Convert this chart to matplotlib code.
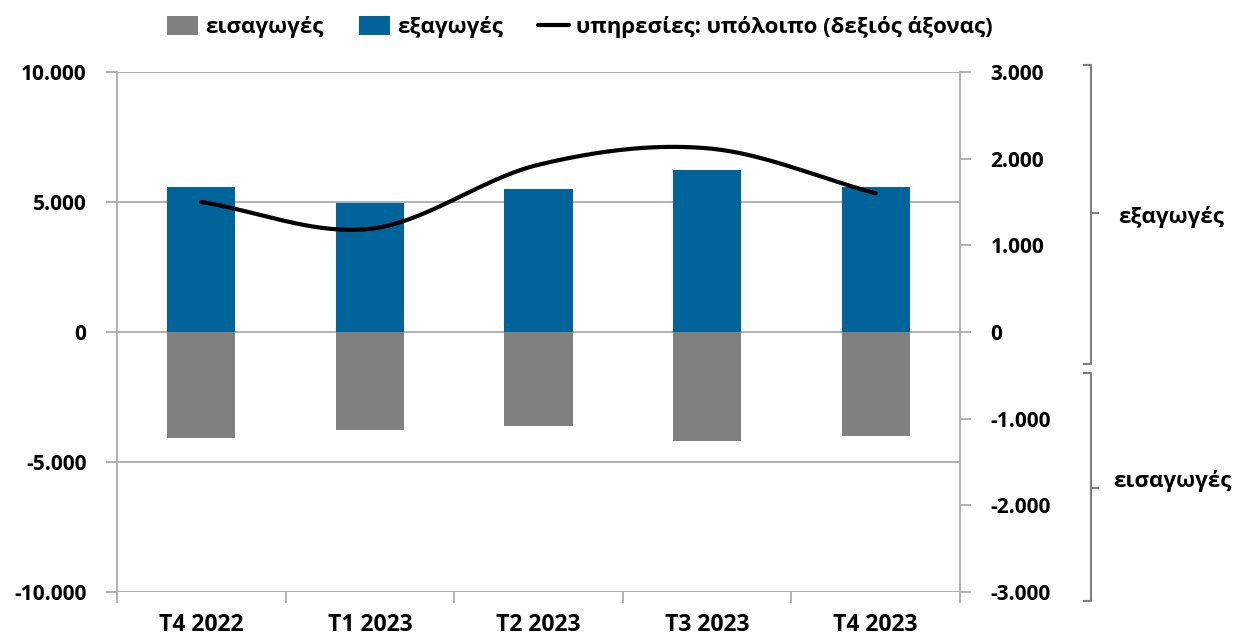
import matplotlib
matplotlib.use('Agg')
import matplotlib.pyplot as plt
import numpy as np
from matplotlib.ticker import FuncFormatter, FixedLocator

plt.rcParams['font.family'] = ['Open Sans', 'DejaVu Sans']
plt.rcParams['font.weight'] = 'bold'

quarters = ['T4 2022', 'T1 2023', 'T2 2023', 'T3 2023', 'T4 2023']
exports = [5580, 4960, 5500, 6230, 5580]          # εξαγωγές
imports = [-4080, -3770, -3620, -4190, -4000]     # εισαγωγές
balance = [1500, 1190, 1930, 2120, 1600]          # υπόλοιπο, δεξιός άξονας

c_exp = '#00639A'
c_imp = '#808080'
c_grid = '#A6A6A6'
fs_y = 15
fs_x = 16.5
fs_leg = 16


def dotted(v, pos=None):
    return f'{int(v):,}'.replace(',', '.')


def smooth(x, y, n=40):
    # Catmull-Rom καμπύλη, όπως η "εξομαλυσμένη γραμμή" του Excel
    x = np.asarray(x, float)
    y = np.asarray(y, float)
    px = np.concatenate([[2 * x[0] - x[1]], x, [2 * x[-1] - x[-2]]])
    py = np.concatenate([[2 * y[0] - y[1]], y, [2 * y[-1] - y[-2]]])
    xs, ys = [], []
    t = np.linspace(0, 1, n)
    for i in range(1, len(px) - 2):
        for p, out in ((px, xs), (py, ys)):
            p0, p1, p2, p3 = p[i - 1], p[i], p[i + 1], p[i + 2]
            out.append(0.5 * (2 * p1 + (-p0 + p2) * t
                              + (2 * p0 - 5 * p1 + 4 * p2 - p3) * t ** 2
                              + (-p0 + 3 * p1 - 3 * p2 + p3) * t ** 3))
    return np.concatenate(xs), np.concatenate(ys)


fig = plt.figure(figsize=(12.41, 6.39), dpi=100)
ax = fig.add_axes([117 / 1241, 1 - 592 / 639, (960 - 117) / 1241, (592 - 72) / 639])
ax2 = ax.twinx()

x = np.arange(len(quarters))
w = 0.405
ax.bar(x, imports, w, color=c_imp, label='εισαγωγές', zorder=3)
ax.bar(x, exports, w, color=c_exp, label='εξαγωγές', zorder=3)

sx, sy = smooth(x, balance)
ln, = ax2.plot(sx, sy, color='black', lw=3, solid_capstyle='round',
               label='υπηρεσίες: υπόλοιπο (δεξιός άξονας)')

ax.set_xlim(-0.5, len(quarters) - 0.5)
ax.set_ylim(-10000, 10000)
ax2.set_ylim(-3000, 3000)
ax.set_yticks(np.arange(-10000, 10001, 5000))
ax2.set_yticks(np.arange(-3000, 3001, 1000))
ax.yaxis.set_major_formatter(FuncFormatter(dotted))
ax2.yaxis.set_major_formatter(FuncFormatter(dotted))

ax.grid(axis='y', color=c_grid, lw=1.2, zorder=0)
ax.set_axisbelow(True)

# κατηγορίες: σημάδια στα όρια, ετικέτες στο κέντρο
ax.xaxis.set_major_locator(FixedLocator(np.arange(-0.5, len(quarters), 1)))
ax.xaxis.set_minor_locator(FixedLocator(x))
ax.set_xticklabels([])
ax.set_xticklabels(quarters, minor=True)
ax.tick_params(axis='x', which='major', length=8, color=c_grid, width=1.2)
ax.tick_params(axis='x', which='minor', length=0, pad=15, labelsize=fs_x)
ax.tick_params(axis='y', length=8, color=c_grid, width=1.2, pad=14, labelsize=fs_y)
ax2.tick_params(axis='y', length=8, color=c_grid, width=1.2, pad=14, labelsize=fs_y)

for a in (ax, ax2):
    for s in a.spines.values():
        s.set_visible(False)
ax.spines['left'].set_visible(True)
ax.spines['left'].set_color(c_grid)
ax.spines['left'].set_linewidth(1.2)
ax2.spines['right'].set_visible(True)
ax2.spines['right'].set_color(c_grid)
ax2.spines['right'].set_linewidth(1.2)

handles = [ax.containers[0], ax.containers[1], ln]
fig.legend(handles, [h.get_label() for h in handles], loc='center',
           bbox_to_anchor=(580 / 1241, 1 - 27 / 639), ncol=3, frameon=False,
           fontsize=fs_leg, handlelength=1.4, handleheight=0.9, handletextpad=0.3,
           columnspacing=1.6)

# αγκύλες στα δεξιά
def bracket(y0, y1, ymid, text, ty, tx):
    X = lambda px: px / 1241
    Y = lambda py: 1 - py / 639
    fig.add_artist(plt.Line2D([X(1084), X(1091), X(1091), X(1084)],
                              [Y(y0), Y(y0), Y(y1), Y(y1)],
                              color='#7F7F7F', lw=1.5))
    fig.add_artist(plt.Line2D([X(1091), X(1098)], [Y(ymid), Y(ymid)],
                              color='#7F7F7F', lw=1.5))
    fig.text(X(tx), Y(ty), text, fontsize=fs_leg, va='center', ha='left')


bracket(65, 364, 213, 'εξαγωγές', 217, 1118)
bracket(373, 601, 488, 'εισαγωγές', 481, 1113)

fig.savefig('out.png', dpi=100)
